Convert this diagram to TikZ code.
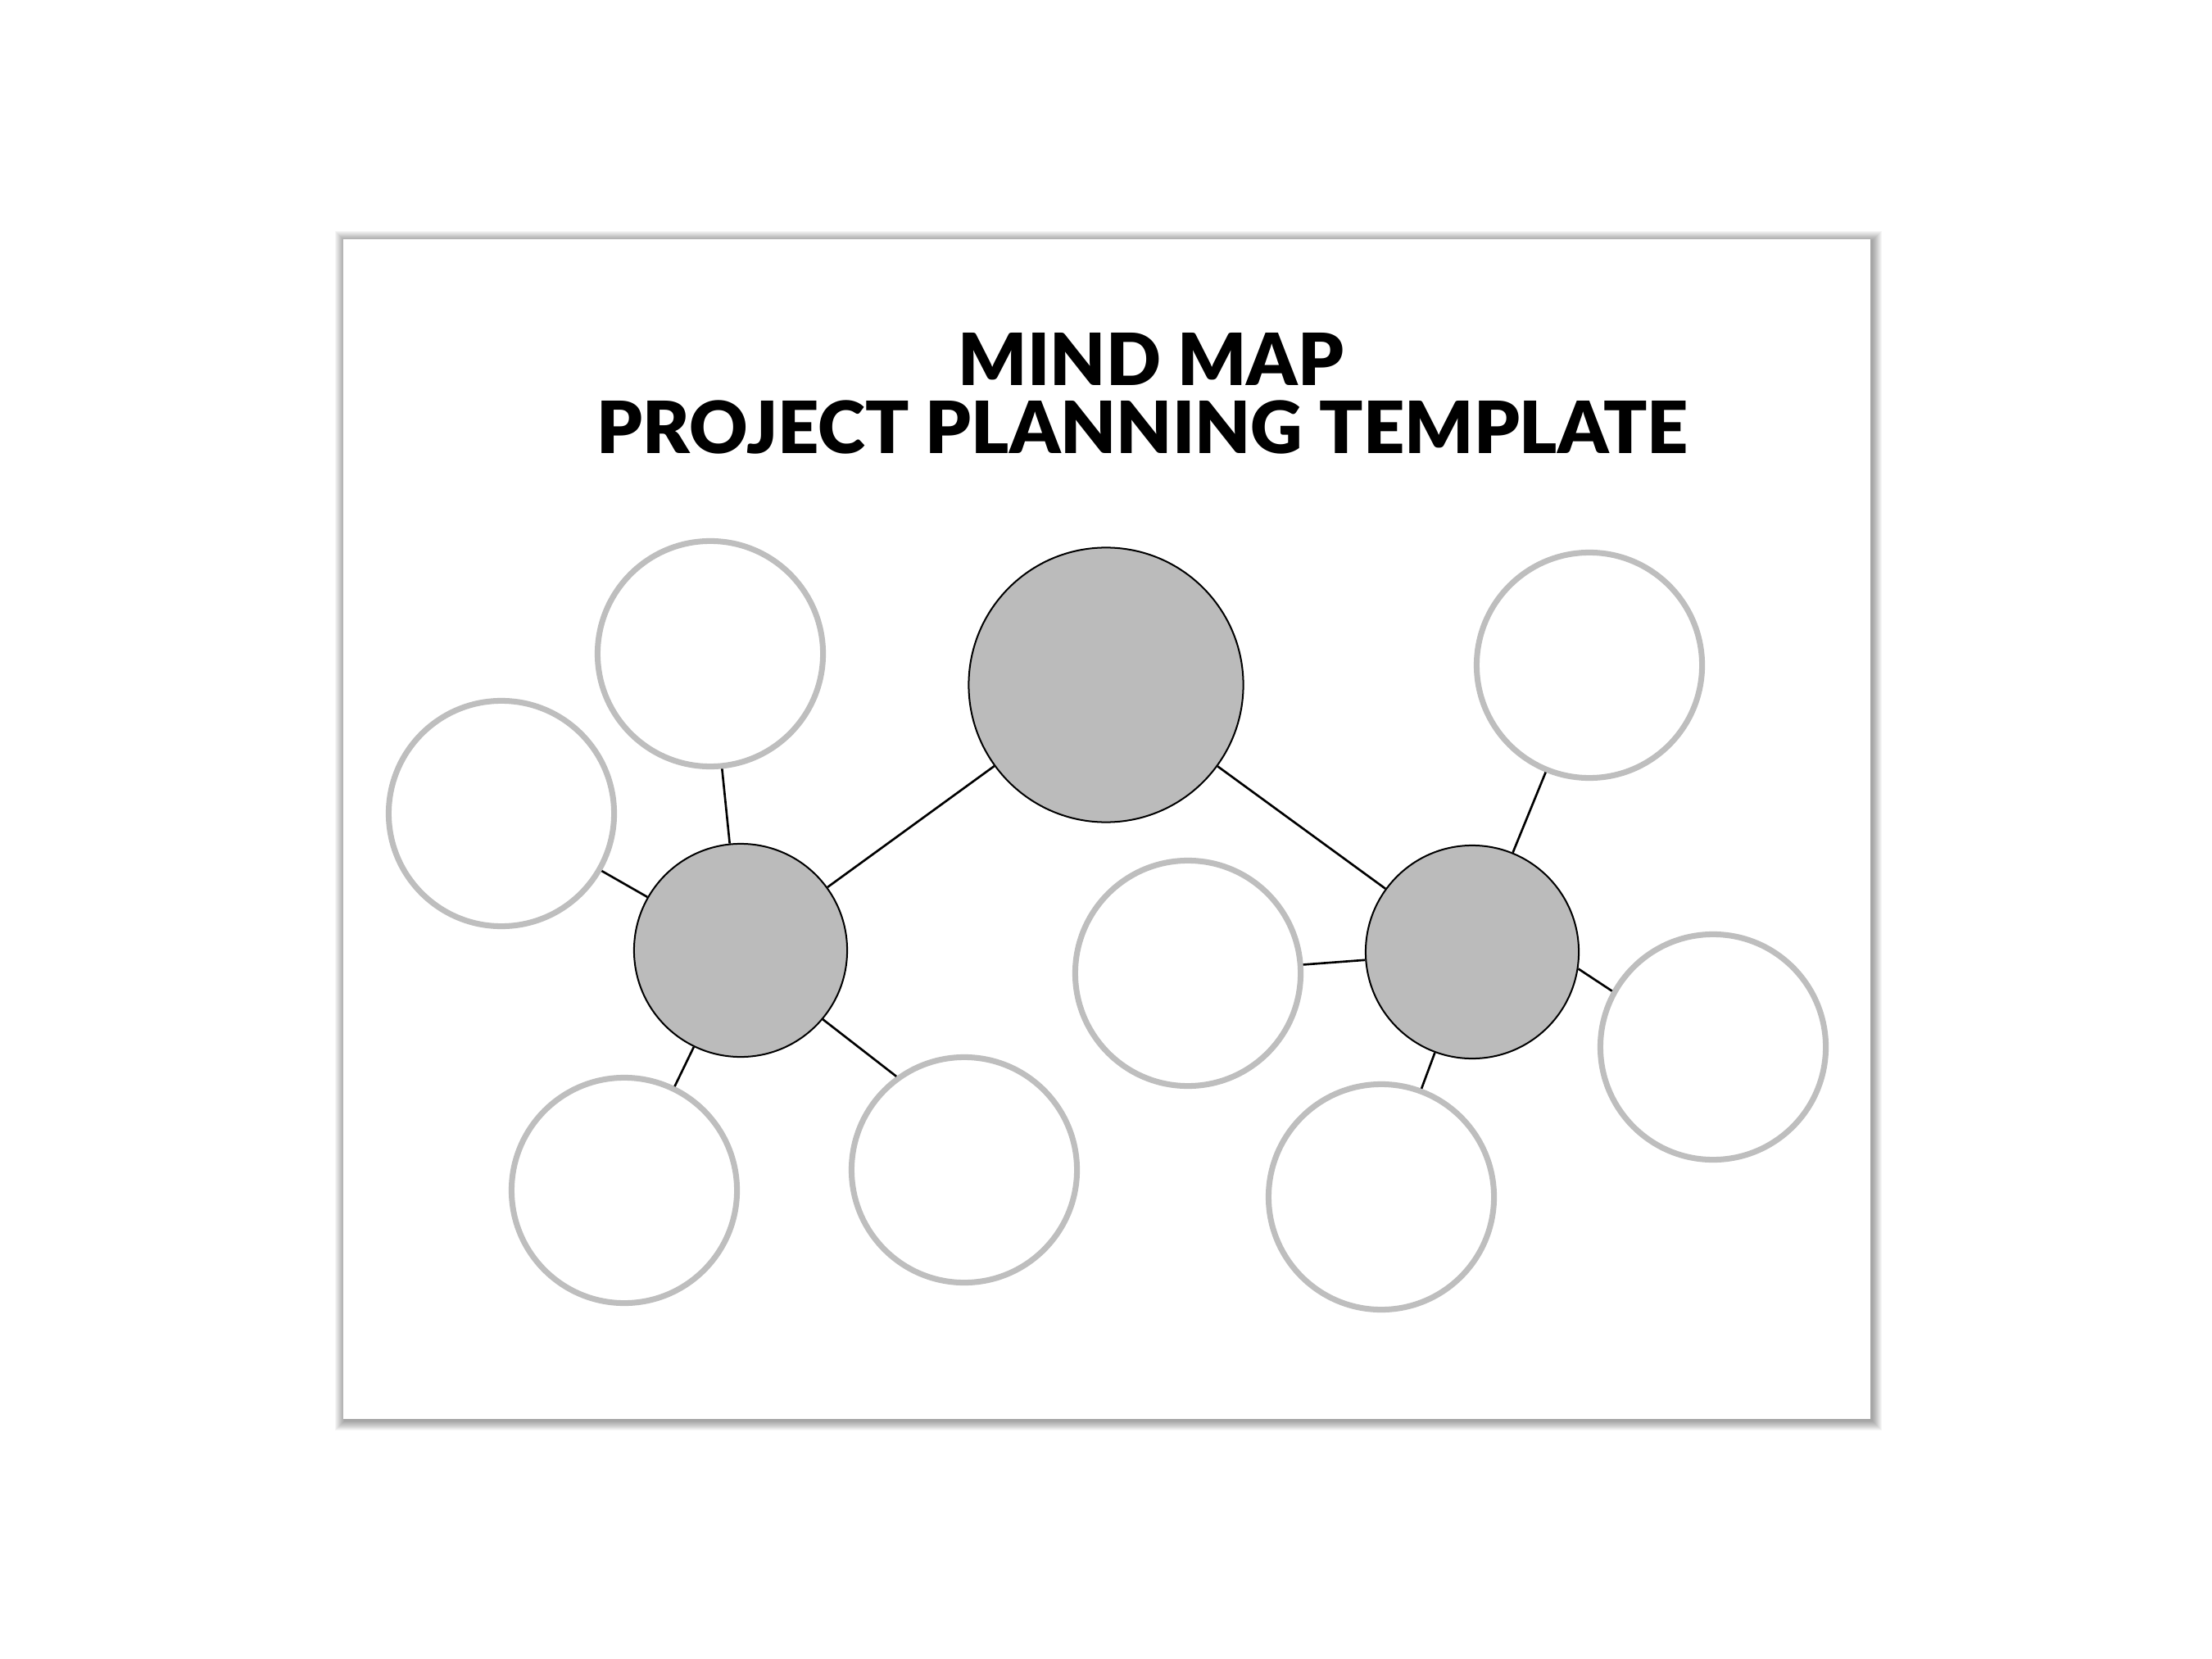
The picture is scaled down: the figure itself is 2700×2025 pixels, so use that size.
\documentclass[tikz,border=0pt]{standalone}
\usepackage{fontspec}
\setmainfont{Lato}
\newfontfamily\headfont{Lato Black}
\definecolor{hubgray}{HTML}{BBBBBB}
\definecolor{leafgray}{HTML}{BEBEBE}

\begin{document}
\begin{tikzpicture}[x=0.01cm,y=-0.01cm,
    hub/.style={circle,draw=black,line width=0.57pt,fill=hubgray,inner sep=0pt},
    leaf/.style={circle,draw=leafgray,line width=2pt,fill=white,inner sep=0pt,minimum size=2.75cm},
    link/.style={line width=0.75pt},
    heading/.style={font=\headfont\fontsize{25}{30}\selectfont,anchor=base,inner sep=0pt}]
  \useasboundingbox (0,0) rectangle (2700,2025);
  % the sheet and its shadow
  \foreach \s in {1,...,12}
    \fill[black,opacity=0.035] (421-\s,294-\s) rectangle (2285+\s,1734+\s);
  \fill[white] (419,292) rectangle (2283,1732);

  \node[heading] (mind) at (1405,471) {MIND MAP};
  \node[heading] (plan) at (1395,554) {PROJECT PLANNING TEMPLATE};

    \node[hub,minimum size=3.35cm] (top) at (1350,836) {};
    \node[hub,minimum size=2.6cm] (hl) at (904,1160) {};
    \node[hub,minimum size=2.6cm] (hr) at (1797,1162) {};
      \node[leaf] (la) at (867,798) {};
      \node[leaf] (lb) at (612,993) {};
      \node[leaf] (lc) at (762,1453) {};
      \node[leaf] (ld) at (1177,1428) {};
      \node[leaf] (re) at (1450,1188) {};
      \node[leaf] (rf) at (1940,812) {};
      \node[leaf] (rg) at (2091,1278) {};
      \node[leaf] (rh) at (1686,1461) {};
    \draw[link] (hl) -- (top) -- (hr);
    \draw[link] (la) -- (hl) -- (lb)
    (hl) -- (lc)
    (hl.-40) -- (ld.126);
    \draw[link] (re) -- (hr) -- (rf)
    (hr) -- (rh)
    (hr.-9) -- (rg.151);
  \end{tikzpicture}
\end{document}
